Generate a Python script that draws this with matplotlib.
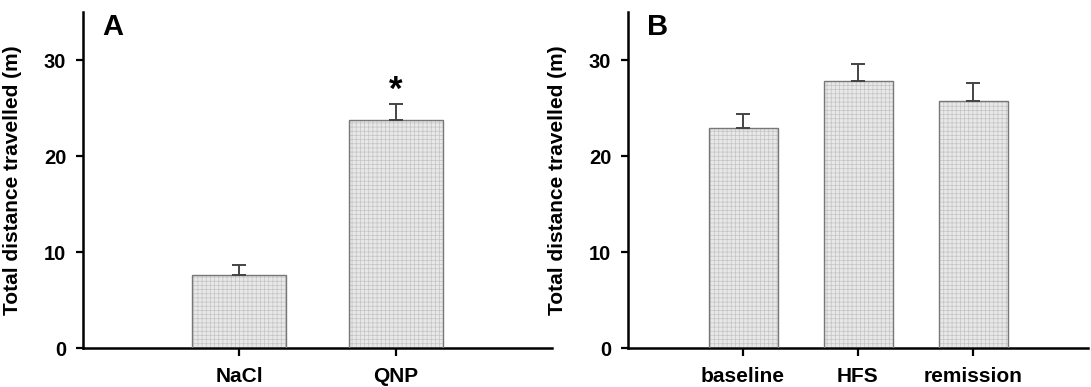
import matplotlib
matplotlib.use("Agg")
import matplotlib.pyplot as plt

plt.rcParams['font.family'] = ['Liberation Sans', 'DejaVu Sans']
plt.rcParams['font.weight'] = 'bold'
plt.rcParams['hatch.linewidth'] = 0.5

# Data
a_categories = ["NaCl", "QNP"]
a_values = [7.65, 23.8]
a_errors = [0.95, 1.6]

b_categories = ["baseline", "HFS", "remission"]
b_values = [22.95, 27.8, 25.7]
b_errors = [1.45, 1.8, 1.95]

ylabel = "Total distance travelled (m)"
yticks = [0, 10, 20, 30]

fig = plt.figure(figsize=(10.91, 3.87), dpi=100)
axA = fig.add_axes([83/1091, 39/387, (552-83)/1091, 336/387])
axB = fig.add_axes([628/1091, 39/387, (1088-628)/1091, 336/387])

def draw(ax, cats, vals, errs, xlim, label, lab_x):
    x = list(range(len(cats)))
    ax.bar(x, vals, width=0.6, color='#e8e8e8', edgecolor='#c4c4c4',
           hatch='++++', linewidth=0, zorder=2)
    ax.bar(x, vals, width=0.6, fill=False, edgecolor='#777777',
           linewidth=1.0, zorder=3)
    ax.errorbar(x, vals, yerr=[[0]*len(vals), errs], fmt='none',
                ecolor='#444444', elinewidth=1.4, capsize=5, capthick=1.4, zorder=4)
    ax.set_xlim(*xlim)
    ax.set_ylim(0, 35)
    ax.set_yticks(yticks)
    ax.set_xticks(x)
    ax.set_xticklabels(cats, fontsize=15, fontweight='bold')
    ax.tick_params(axis='y', labelsize=14.5, width=1.6, length=5, pad=7)
    ax.tick_params(axis='x', width=1.6, length=6, pad=8)
    for s in ['top', 'right']:
        ax.spines[s].set_visible(False)
    for s in ['left', 'bottom']:
        ax.spines[s].set_linewidth(1.8)
    ax.set_ylabel(ylabel, fontsize=15, fontweight='bold')
    ax.yaxis.set_label_coords(lab_x, 0.5)
    ax.text(0.042, 0.997, label, transform=ax.transAxes, fontsize=21,
            fontweight='bold', va='top', ha='left')
    return x

xa = draw(axA, a_categories, a_values, a_errors, (-1, 2), "A", -61/469)
xb = draw(axB, b_categories, b_values, b_errors, (-1, 3), "B", -61/460)

axA.annotate('*', xy=(xa[1], a_values[1] + a_errors[1]), xytext=(0, -2),
             textcoords='offset points', ha='center', va='bottom',
             fontsize=25, fontweight='bold')

fig.savefig("out.png", dpi=100)
